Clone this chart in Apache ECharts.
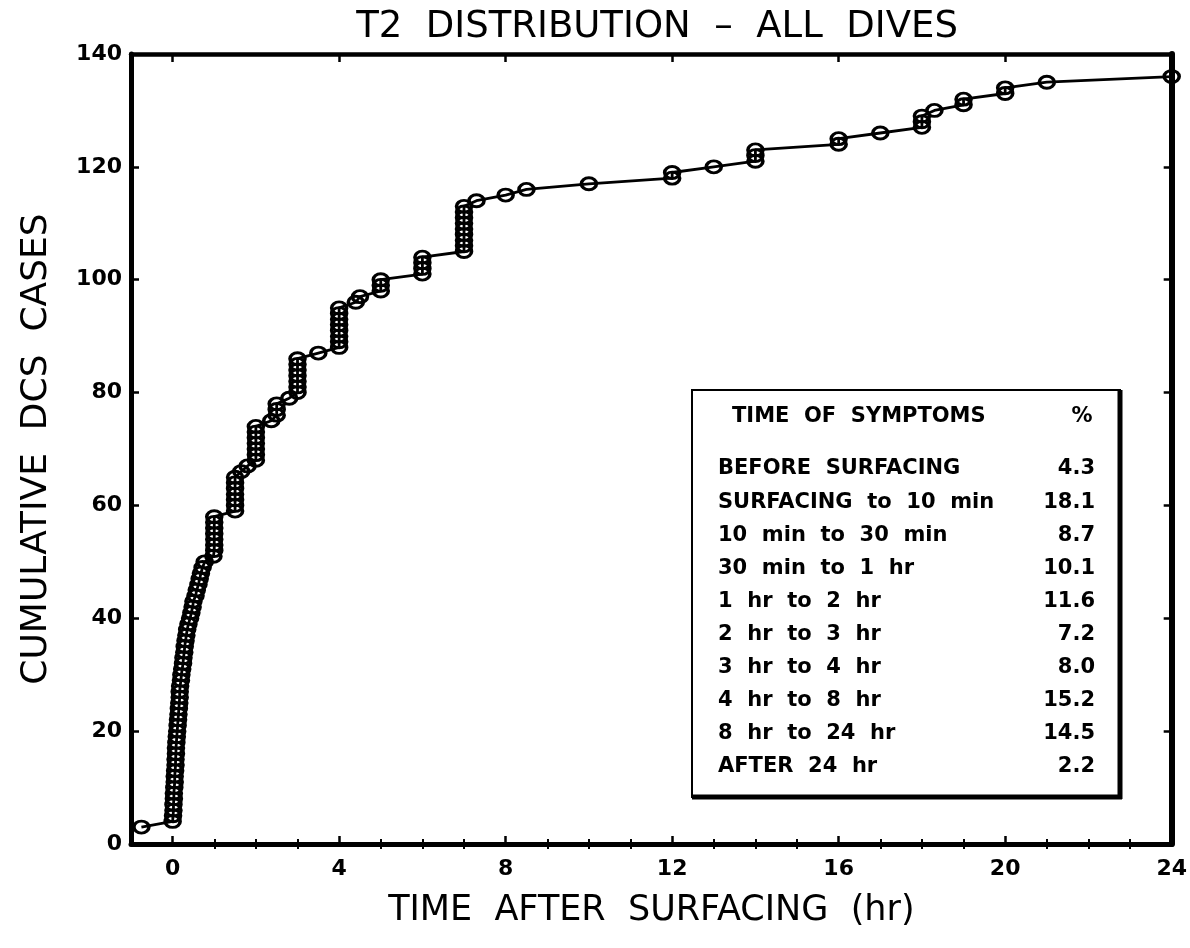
<!DOCTYPE html>
<html>
<head>
<meta charset="utf-8">
<script src="https://cdn.jsdelivr.net/npm/echarts@6/dist/echarts.min.js"></script>
<style>
html,body{margin:0;padding:0;background:#fff;}
#chart{width:1190px;height:948px;}
</style>
</head>
<body>
<div id="chart"></div>
<script>
// ---- data ----
const titleText = 'T2  DISTRIBUTION  \u2013  ALL  DIVES';
const xTitle = 'TIME  AFTER  SURFACING  (hr)';
const yTitle = 'CUMULATIVE  DCS  CASES';

const times = [
  -0.75,
  0.00,0.01,0.02,0.02,0.03,0.03,0.04,0.05,0.05,0.06,
  0.07,0.07,0.08,0.08,0.09,0.10,0.11,0.12,0.13,0.14,
  0.15,0.16,0.17,0.17,0.18,0.20,0.21,0.23,0.25,0.26,
  0.28,0.29,0.31,0.33,0.35,0.38,0.42,0.45,0.48,0.50,
  0.55,0.58,0.62,0.65,0.68,0.72,0.77,
  0.98,1.00,1.00,1.00,1.00,1.00,1.00,1.00,
  1.50,1.50,1.50,1.50,1.50,1.50,1.50,
  1.65,1.80,
  2.00,2.00,2.00,2.00,2.00,2.00,2.00,
  2.37,2.50,2.50,2.50,2.80,
  3.00,3.00,3.00,3.00,3.00,3.00,3.00,
  3.50,
  4.00,4.00,4.00,4.00,4.00,4.00,4.00,4.00,
  4.40,4.50,
  5.00,5.00,5.00,
  6.00,6.00,6.00,6.00,
  7.00,7.00,7.00,7.00,7.00,7.00,7.00,7.00,7.00,
  7.30,8.00,8.50,10.00,12.00,12.00,13.00,14.00,14.00,14.00,
  16.00,16.00,17.00,18.00,18.00,18.00,18.30,19.00,19.00,20.00,20.00,21.00,24.00
];
const cases = [
  3,
  4,5,6,7,8,9,10,11,12,13,
  14,15,16,17,18,19,20,21,22,23,
  24,25,26,27,28,29,30,31,32,33,
  34,35,36,37,38,39,40,41,42,43,
  44,45,46,47,48,49,50,
  51,52,53,54,55,56,57,58,
  59,60,61,62,63,64,65,
  66,67,
  68,69,70,71,72,73,74,
  75,76,77,78,79,
  80,81,82,83,84,85,86,
  87,
  88,89,90,91,92,93,94,95,
  96,97,
  98,99,100,
  101,102,103,104,
  105,106,107,108,109,110,111,112,113,
  114,115,116,117,118,119,120,121,122,123,
  124,125,126,127,128,129,130,131,132,133,134,135,136
];

const xMajorTicks = [0,4,8,12,16,20,24];
const xMinorTicks = [1,2,3,5,6,7,9,10,11,13,14,15,17,18,19,21,22,23];

const symptomHeader = 'TIME  OF  SYMPTOMS';
const symptomLabels = [
  'BEFORE  SURFACING',
  'SURFACING  to  10  min',
  '10  min  to  30  min',
  '30  min  to  1  hr',
  '1  hr  to  2  hr',
  '2  hr  to  3  hr',
  '3  hr  to  4  hr',
  '4  hr  to  8  hr',
  '8  hr  to  24  hr',
  'AFTER  24  hr'
];
const symptomPct = ['4.3','18.1','8.7','10.1','11.6','7.2','8.0','15.2','14.5','2.2'];

// ---- chart ----
const FONT = 'DejaVu Sans';
const chart = echarts.init(document.getElementById('chart'), null, {renderer:'canvas'});

const seriesData = times.map((t, i) => [t, cases[i]]);

const frame = (w) => ({show:true, onZero:false, lineStyle:{color:'#000', width:w}});

// legend box graphic
const box = {left:692, top:390, right:1120, bottom:797};
const rowTop = 469, rowStep = 33.1;
const BOXFONT = 'bold 21px "'+FONT+'"';
const graphics = [
  {type:'rect', shape:{x:box.left, y:box.top, width:box.right-box.left, height:box.bottom-box.top},
   style:{fill:'#fff', stroke:'#000', lineWidth:2}, z:10},
  {type:'line', shape:{x1:box.right, y1:box.top, x2:box.right, y2:box.bottom+2}, style:{stroke:'#000', lineWidth:5}, z:11},
  {type:'line', shape:{x1:box.left, y1:box.bottom, x2:box.right+2, y2:box.bottom}, style:{stroke:'#000', lineWidth:5}, z:11},
  {type:'text', x:732, y:417, style:{text:symptomHeader, font:BOXFONT, fill:'#000', textVerticalAlign:'middle', textAlign:'left'}, z:12},
  {type:'text', x:1082, y:417, style:{text:'%', font:BOXFONT, fill:'#000', textVerticalAlign:'middle', textAlign:'center'}, z:12}
];
symptomLabels.forEach((lab, i) => {
  const y = rowTop + i*rowStep;
  graphics.push({type:'text', x:718, y:y, style:{text:lab, font:BOXFONT, fill:'#000', textVerticalAlign:'middle', textAlign:'left'}, z:12});
  graphics.push({type:'text', x:1095, y:y, style:{text:symptomPct[i], font:BOXFONT, fill:'#000', textVerticalAlign:'middle', textAlign:'right'}, z:12});
});

const option = {
  animation:false,
  backgroundColor:'#fff',
  title:{
    text:titleText, left:652, top:4, textAlign:'center',
    textStyle:{fontFamily:FONT, fontSize:37, fontWeight:'normal', color:'#000'}
  },
  grid:{left:131, right:16, top:54, bottom:104, containLabel:false},
  xAxis:[
    {type:'value', position:'bottom', min:-1, max:24,
     axisLine:frame(5),
     axisTick:{show:true, inside:true, length:8, customValues:xMajorTicks, lineStyle:{color:'#000', width:2.5}},
     axisLabel:{show:true, customValues:xMajorTicks, margin:14, color:'#000', fontFamily:FONT, fontWeight:'bold', fontSize:22},
     splitLine:{show:false},
     name:xTitle, nameLocation:'middle', nameGap:49,
     nameTextStyle:{fontFamily:FONT, fontSize:35, color:'#000'}},
    {type:'value', position:'bottom', min:-1, max:24,
     axisLine:{show:false},
     axisTick:{show:true, inside:true, length:5, customValues:xMinorTicks, lineStyle:{color:'#000', width:2}},
     axisLabel:{show:false}, splitLine:{show:false}},
    {type:'value', position:'top', min:-1, max:24,
     axisLine:frame(4.5),
     axisTick:{show:true, inside:true, length:8, customValues:xMajorTicks, lineStyle:{color:'#000', width:2.5}},
     axisLabel:{show:false}, splitLine:{show:false}},
    {type:'value', position:'top', min:-1, max:24,
     axisLine:{show:false},
     axisTick:{show:true, inside:true, length:5, customValues:xMinorTicks, lineStyle:{color:'#000', width:2}},
     axisLabel:{show:false}, splitLine:{show:false}}
  ],
  yAxis:[
    {type:'value', position:'left', min:0, max:140, interval:20,
     axisLine:frame(5),
     axisTick:{show:true, inside:true, length:8, lineStyle:{color:'#000', width:2.5}},
     axisLabel:{show:true, margin:9, color:'#000', fontFamily:FONT, fontWeight:'bold', fontSize:22},
     splitLine:{show:false},
     name:yTitle, nameLocation:'middle', nameGap:76, nameRotate:90,
     nameTextStyle:{fontFamily:FONT, fontSize:36, color:'#000'}},
    {type:'value', position:'right', min:0, max:140, interval:20,
     axisLine:frame(6),
     axisTick:{show:true, inside:true, length:8, lineStyle:{color:'#000', width:2.5}},
     axisLabel:{show:false}, splitLine:{show:false}}
  ],
  series:[{
    type:'line', xAxisIndex:0, yAxisIndex:0,
    data:seriesData,
    showAllSymbol:true, clip:false,
    symbol:'circle', symbolSize:[15,12],
    itemStyle:{color:'rgba(0,0,0,0)', borderColor:'#000', borderWidth:3.2},
    lineStyle:{color:'#000', width:2.8},
    emphasis:{disabled:true},
    z:5
  }],
  graphic:graphics
};
chart.setOption(option);
</script>
</body>
</html>
